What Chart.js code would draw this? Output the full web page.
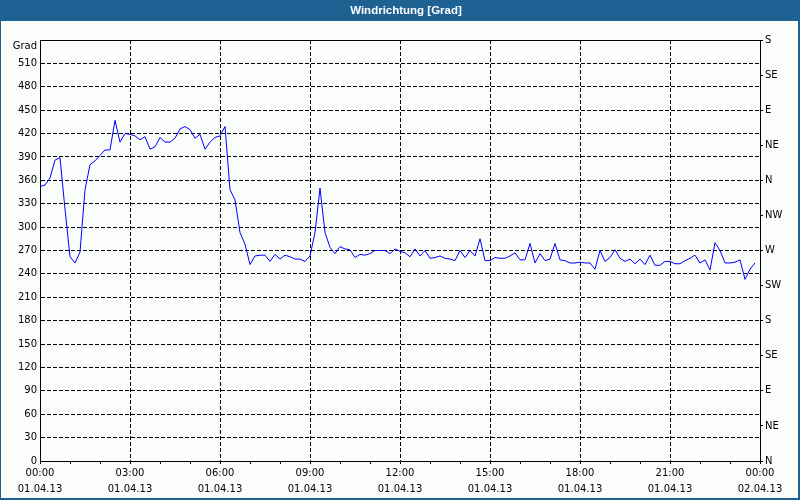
<!DOCTYPE html>
<html>
<head>
<meta charset="utf-8">
<script src="https://cdn.jsdelivr.net/npm/chart.js@4"></script>
<style>
  html, body { margin: 0; padding: 0; background: #fbfdfb; }
</style>
</head>
<body>
<canvas id="chart" width="800" height="500"></canvas>
<script>
const chartTitle = 'Windrichtung [Grad]';
const stepMinutes = 10;

// wind direction in degrees, one value every 10 minutes
const dir0006 = [352, 354, 363, 386, 389, 323, 262, 254, 268, 348, 380, 385, 392, 399, 399, 437, 409, 420,
  419, 417, 412, 416, 400, 403, 415, 409, 409, 414, 426, 429, 425, 414, 419, 400, 409, 415];
const dir0612 = [417, 429, 348, 335, 293, 278, 252, 263, 264, 264, 256, 265, 259, 264, 262, 259, 259, 256,
  263, 293, 350, 293, 274, 266, 275, 272, 271, 261, 265, 264, 266, 270, 270, 270, 266, 272];
const dir1218 = [269, 267, 262, 272, 263, 270, 260, 261, 263, 260, 259, 257, 270, 261, 270, 263, 285, 257,
  257, 261, 260, 260, 263, 267, 258, 258, 279, 254, 266, 257, 259, 279, 258, 257, 254, 254];
const dir1824 = [255, 254, 254, 246, 270, 256, 261, 271, 260, 256, 259, 253, 259, 252, 264, 251, 251, 256,
  256, 253, 253, 257, 260, 264, 254, 258, 245, 280, 270, 254, 254, 255, 258, 233, 246, 254];
const windDir = [...dir0006, ...dir0612, ...dir1218, ...dir1824];

const hourLabels = ['00:00', '03:00', '06:00', '09:00', '12:00', '15:00', '18:00', '21:00', '00:00'];
const dateLabels = ['01.04.13', '01.04.13', '01.04.13', '01.04.13', '01.04.13', '01.04.13', '01.04.13', '01.04.13', '02.04.13'];
const compass = ['N', 'NE', 'E', 'SE', 'S', 'SW', 'W', 'NW'];

const tickFont = { family: 'DejaVu Sans', size: 10 };
const dash = [4, 2];

// background, title bar and blue window frame
const framePlugin = {
  id: 'frame',
  beforeDraw(chart) {
    const { ctx, width, height } = chart;
    ctx.save();
    ctx.fillStyle = '#fbfdfb';
    ctx.fillRect(0, 0, width, height);
    ctx.fillStyle = '#1e6294';
    ctx.fillRect(0, 0, width, 21);
    ctx.fillRect(0, 0, 1, height);
    ctx.fillRect(width - 2, 0, 2, height);
    ctx.fillRect(0, height - 2, width, 2);
    ctx.restore();
  }
};

new Chart(document.getElementById('chart').getContext('2d'), {
  type: 'line',
  data: {
    datasets: [{
      data: windDir.map((v, i) => ({ x: i * stepMinutes, y: v })),
      borderColor: '#0000ff',
      borderWidth: 1,
      pointRadius: 0,
      tension: 0,
      fill: false,
      xAxisID: 'x',
      yAxisID: 'y'
    }]
  },
  options: {
    responsive: false,
    animation: false,
    layout: { padding: { left: 12, right: 0, top: 0, bottom: 0 } },
    plugins: {
      legend: { display: false },
      tooltip: { enabled: false },
      title: {
        display: true,
        text: chartTitle,
        color: '#ffffff',
        font: { family: 'Liberation Sans', size: 11.5, weight: 'bold' },
        padding: { top: 4, bottom: 22.2 }
      }
    },
    scales: {
      x: {
        type: 'linear',
        position: 'bottom',
        min: 0,
        max: 1440,
        ticks: {
          stepSize: 60,
          autoSkip: false,
          maxRotation: 0,
          padding: 1,
          color: '#000',
          font: { family: 'DejaVu Sans', size: 10, lineHeight: 1.65 },
          callback: v => {
            if (v % 180 !== 0) return '';
            const i = v / 180;
            return [hourLabels[i], dateLabels[i]];
          }
        },
        grid: {
          color: c => (c.tick && c.tick.value % 180 === 0 && c.tick.value > 0 && c.tick.value < 1440) ? '#000' : 'rgba(0,0,0,0)',
          tickColor: '#000',
          tickLength: 3,
          lineWidth: 1
        },
        border: { color: '#000', dash: dash },
        afterFit: s => { s.height = 39; }
      },
      x2: {
        type: 'linear',
        position: 'top',
        min: 0,
        max: 1440,
        ticks: { display: false },
        grid: { display: false, drawTicks: false },
        border: { display: true, color: '#000' },
        afterFit: s => { s.height = 0; }
      },
      y: {
        type: 'linear',
        position: 'left',
        min: 0,
        max: 540,
        ticks: {
          stepSize: 30,
          autoSkip: false,
          padding: 3,
          color: '#000',
          font: tickFont,
          callback: v => v === 540 ? ['', 'Grad'] : v
        },
        grid: {
          drawTicks: false,
          color: c => (c.tick && c.tick.value > 0 && c.tick.value < 540) ? '#000' : 'rgba(0,0,0,0)',
          lineWidth: 1
        },
        border: { color: '#000', dash: dash },
        afterFit: s => { s.width = 28; }
      },
      y2: {
        type: 'linear',
        position: 'right',
        min: 0,
        max: 540,
        ticks: {
          stepSize: 45,
          autoSkip: false,
          padding: 2,
          color: '#000',
          font: tickFont,
          callback: v => compass[(v / 45) % 8]
        },
        grid: { drawOnChartArea: false, tickLength: 3, tickColor: '#000' },
        border: { color: '#000' },
        afterFit: s => { s.width = 40; }
      }
    }
  },
  plugins: [framePlugin]
});
</script>
</body>
</html>
